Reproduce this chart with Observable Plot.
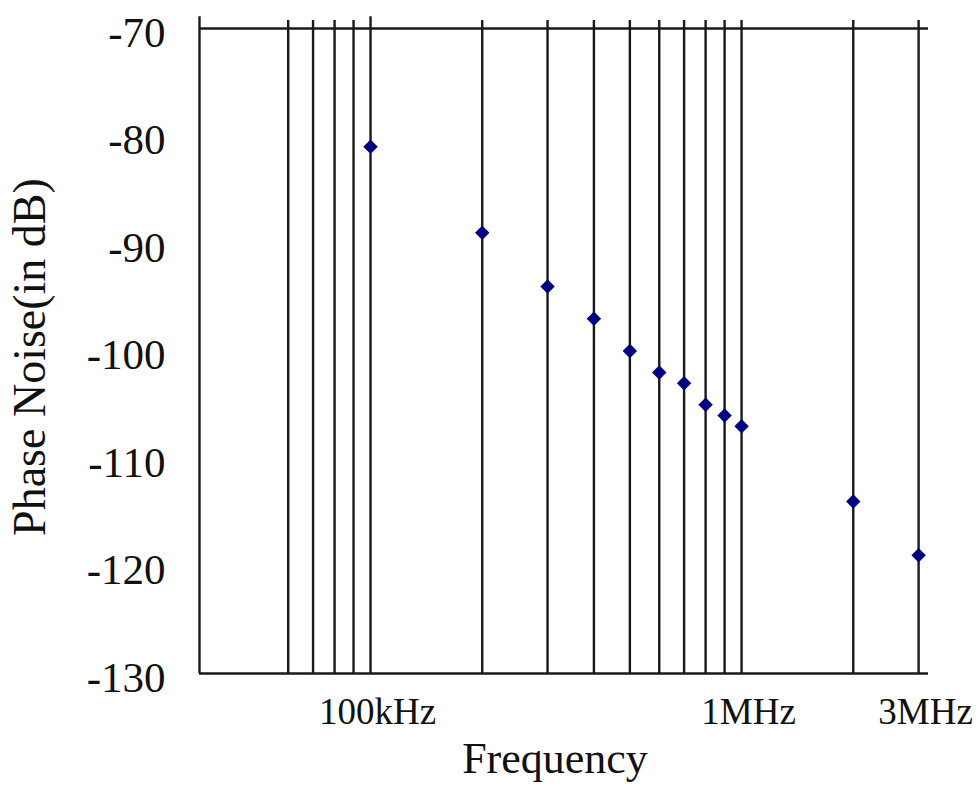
<!DOCTYPE html>
<html>
<head>
<meta charset="utf-8">
<script src="https://cdn.jsdelivr.net/npm/d3@7"></script>
<script src="https://cdn.jsdelivr.net/npm/@observablehq/plot@0.6"></script>
<style>
  html, body { margin: 0; padding: 0; background: #fff; }
  #chart { width: 980px; height: 787px; }
</style>
</head>
<body>
<div id="chart"></div>
<script>
// Measured data (frequency in Hz, phase noise in dB)
const freqs = [100e3, 200e3, 300e3, 400e3, 500e3, 600e3, 700e3, 800e3, 900e3, 1e6, 2e6, 3e6];
const phaseNoise = [-81, -89, -94, -97, -100, -102, -103, -105, -106, -107, -114, -119];

// Vertical grid lines (log grid)
const gridFreqs = [60e3, 70e3, 80e3, 90e3, 100e3, 200e3, 300e3, 400e3, 500e3, 600e3, 700e3, 800e3, 900e3, 1e6, 2e6, 3e6];

// Axis ticks
const xTickValues = [100e3, 1e6, 3e6];
const xTickLabels = ["100kHz", "1MHz", "3MHz"];
const yTickValues = [-70, -80, -90, -100, -110, -120, -130];
const yTickLabels = ["-70", "-80", "-90", "-100", "-110", "-120", "-130"];

const xDomain = [34.6e3, 3.19e6];
const yDomain = [-130, -70];
const gridTop = -69.25;
const axisTop = -68.9;

const data = freqs.map((f, i) => ({f, pn: phaseNoise[i]}));
const serif = "'Liberation Serif', 'DejaVu Serif', serif";

const chart = Plot.plot({
  width: 980,
  height: 787,
  marginLeft: 199,
  marginRight: 52,
  marginTop: 28,
  marginBottom: 114,
  style: {background: "#fff", fontFamily: serif, color: "#111"},
  x: {type: "log", domain: xDomain},
  y: {domain: yDomain},
  marks: [
    Plot.ruleX(gridFreqs, {y1: yDomain[0], y2: d => d === 100e3 ? axisTop : gridTop, stroke: "#1a1a1a", strokeWidth: 2.4}),
    Plot.ruleX([xDomain[0]], {y1: yDomain[0], y2: axisTop, stroke: "#1a1a1a", strokeWidth: 2.4}),
    Plot.ruleY(yDomain, {stroke: "#1a1a1a", strokeWidth: 2.4}),
    Plot.dot(data, {x: "f", y: "pn", symbol: "diamond2", r: 6.5, fill: "#000080", stroke: "none"}),
    Plot.axisY({ticks: yTickValues, tickFormat: d => yTickLabels[yTickValues.indexOf(d)], tickSize: 0, tickPadding: 34, fontSize: 43, dy: 4.5, label: null, fill: "#111"}),
    Plot.axisX({ticks: xTickValues, tickFormat: d => xTickLabels[xTickValues.indexOf(d)], tickSize: 0, tickPadding: 24, fontSize: 37, dx: 7, label: null, fill: "#111"}),
    Plot.text(["Frequency"], {frameAnchor: "bottom", textAnchor: "middle", dx: -9, dy: 99, fontSize: 44, fill: "#111"}),
    Plot.text(["Phase Noise(in dB)"], {frameAnchor: "left", textAnchor: "middle", rotate: -90, dx: -169, dy: 6, fontSize: 46, fill: "#111"})
  ]
});
document.getElementById("chart").appendChild(chart);
</script>
</body>
</html>
